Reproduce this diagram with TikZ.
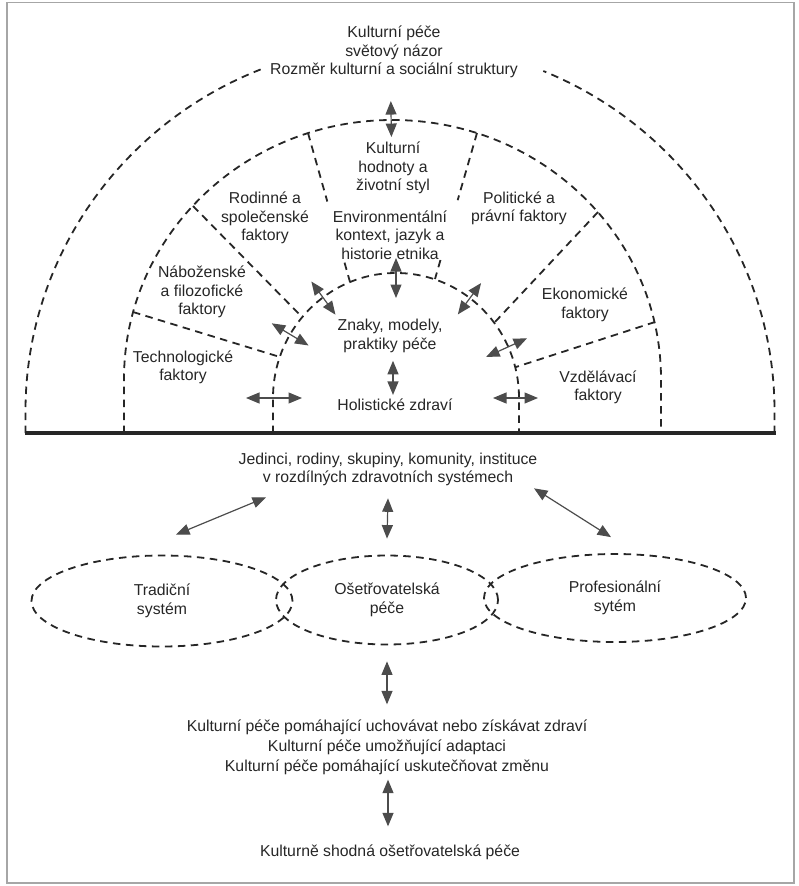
\documentclass[tikz,border=0pt]{standalone}
\usepackage{fontspec}
\setmainfont{Liberation Sans}
\usetikzlibrary{arrows.meta,shapes.geometric,calc}

\tikzset{
    lbl/.style={align=center,font=\fontsize{15.8}{18.5}\selectfont,text=black!85,inner sep=1pt},
    dashline/.style={draw=black!85,line width=1.8pt,dash pattern=on 7.5pt off 5.5pt},
    twoway/.style={<->,draw=black!70,line width=1.2pt},
    sysellipse/.style={ellipse,lbl,dashline,inner sep=0pt},
}

\begin{document}
\begin{tikzpicture}[x=1pt,y=1pt,>={Triangle[length=13.5pt,width=11pt]}]
    \useasboundingbox (0,0) rectangle (799,-886);
    \draw[black!35,line width=1.2pt] (7,-2.5) rectangle (794,-883);
    % arches of the dome
    \draw[dashline] (25.5,-433) -- (25.5,-411) arc[start angle=180,end angle=111.1,x radius=374.5,y radius=368];
    \draw[dashline] (774.5,-433) -- (774.5,-411) arc[start angle=0,end angle=67.5,x radius=374.5,y radius=368];
    \draw[dashline] (124,-433) -- (124,-379) arc[start angle=180,end angle=0,x radius=268.5,y radius=259] -- (661,-433);
    \draw[dashline] (273,-433) -- (273,-398) arc[start angle=180,end angle=0,x radius=123,y radius=125] -- (519,-433);
    % sector borders
    \draw[dashline] (133,-312) -- (280,-357);
    \draw[dashline] (193,-206) -- (302,-317);
    \draw[dashline] (598,-212) -- (495,-322);
    \draw[dashline] (655,-322) -- (516,-367);
    \coordinate (cL1) at (308,-133); \coordinate (cL2) at (350,-282);
    \coordinate (cR1) at (477,-133); \coordinate (cR2) at (435,-279);
    \draw[dashline] (cL1) -- ($(cL1)!.46!(cL2)$) ($(cL1)!.87!(cL2)$) -- (cL2);
    \draw[dashline] (cR1) -- ($(cR1)!.46!(cR2)$) ($(cR1)!.87!(cR2)$) -- (cR2);
    % ground line
    \draw[black!85,line width=4.5pt] (25,-433) -- (776,-433);

    \node[lbl] (title) at (394,-52) {Kulturní péče\\světový názor\\Rozměr kulturní a sociální struktury};
    \node[lbl] (values) at (393,-168) {Kulturní\\hodnoty a\\životní styl};
    \node[lbl] (environment) at (390,-235) {Environmentální\\kontext, jazyk a\\historie etnika};
    \node[lbl] (family) at (265,-218) {Rodinné a\\společenské\\faktory};
    \node[lbl] (political) at (519,-208.5) {Politické a\\právní faktory};
    \node[lbl] (religion) at (202,-292) {Náboženské\\a filozofické\\faktory};
    \node[lbl] (technology) at (183,-367.5) {Technologické\\faktory};
    \node[lbl] (economy) at (585,-305) {Ekonomické\\faktory};
    \node[lbl] (education) at (598,-387.5) {Vzdělávací\\faktory};
    \node[lbl] (practices) at (390,-336) {Znaky, modely,\\praktiky péče};
    \node[lbl] (health) at (395,-405) {Holistické zdraví};

    \coordinate (innerC) at (396,-398);
    \foreach \ang/\rin/\rout in {91/261/297,90/100/140,126/103/144,149/102/145,180/94/150,53.5/104/143,24.5/99/144,0/97/142}
        \draw[twoway] ($(innerC)+(\ang:\rin)$) -- ($(innerC)+(\ang:\rout)$);
    \draw[twoway,shorten <=7pt,shorten >=3pt] ([xshift=3pt]practices.south) -- ([xshift=-2pt]health.north);

    % health systems
    \node[lbl] (individuals) at (388,-469.5) {Jedinci, rodiny, skupiny, komunity, instituce\\v rozdílných zdravotních systémech};
    \node[sysellipse,minimum width=261pt,minimum height=91pt] (folk) at (162,-601) {Tradiční\\systém};
    \node[sysellipse,minimum width=222pt,minimum height=89pt] (nursing) at (387,-600) {Ošetřovatelská\\péče};
    \node[sysellipse,minimum width=262pt,minimum height=88pt] (professional) at (615,-598) {Profesionální\\sytém};
    \node[lbl,font=\fontsize{15.8}{20}\selectfont] (decisions) at (387,-747) {Kulturní péče pomáhající uchovávat nebo získávat zdraví\\Kulturní péče umožňující adaptaci\\Kulturní péče pomáhající uskutečňovat změnu};
    \node[lbl] (congruent) at (390,-852) {Kulturně shodná ošetřovatelská péče};

    \draw[twoway] ([shift={(-122pt,-10pt)}]individuals.south) -- ([shift={(14pt,20pt)}]folk.north);
    \draw[twoway] ([yshift=-11pt]individuals.south) -- ([yshift=16pt]nursing.north);
    \draw[twoway] ([shift={(146pt,-1pt)}]individuals.south) -- ([shift={(-4pt,16pt)}]professional.north);
    \draw[twoway] ([yshift=-16pt]nursing.south) -- ([yshift=14pt]decisions.north);
    \draw[twoway] ([shift={(1pt,-4pt)}]decisions.south) -- ([shift={(-2pt,17pt)}]congruent.north);
\end{tikzpicture}
\end{document}
